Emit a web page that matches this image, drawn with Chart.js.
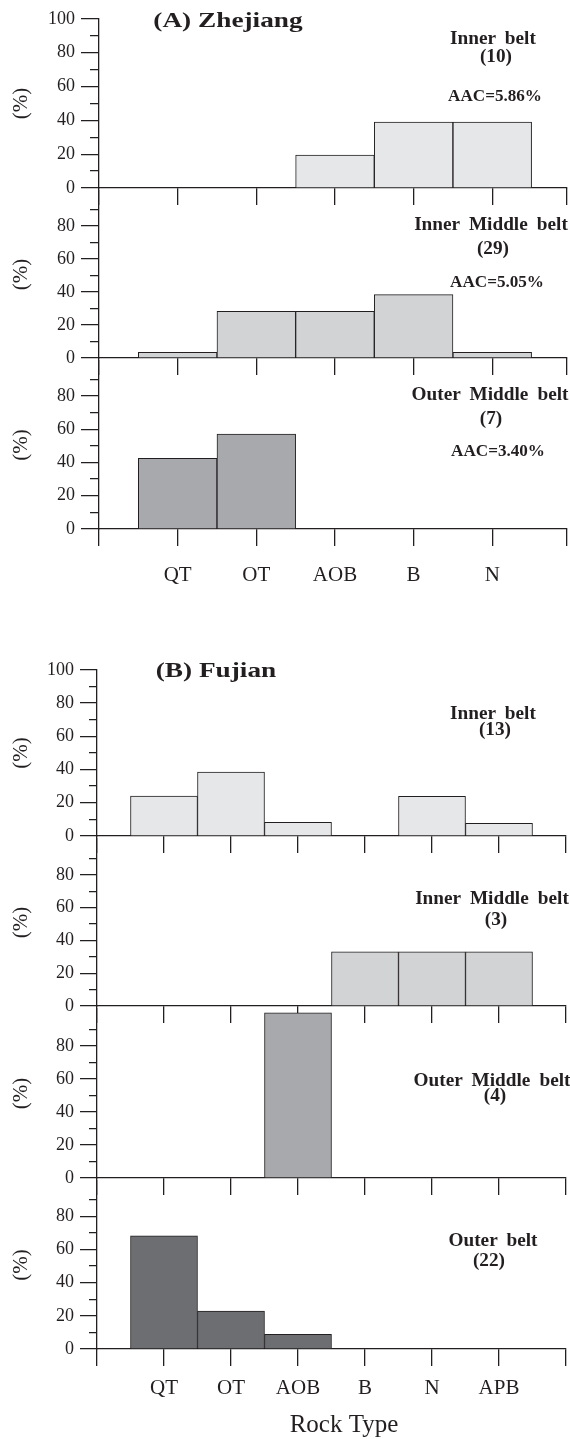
<!DOCTYPE html>
<html>
<head>
<meta charset="utf-8">
<script src="https://cdn.jsdelivr.net/npm/chart.js@4.4.1/dist/chart.umd.min.js"></script>
<style>
html,body{margin:0;padding:0;width:570px;height:1439px;overflow:hidden;background:#fff;}
#wrap{position:relative;width:570px;height:1439px;}
#wrap canvas{position:absolute;left:0;}
.note{position:absolute;z-index:5;font-family:'Liberation Serif','Times New Roman',serif;font-weight:bold;color:#231f20;white-space:nowrap;line-height:1;word-spacing:4px;transform:translate(-50%,-50%) scaleX(1.07);}
.panel{font-size:21px;word-spacing:0;transform:translate(-50%,-50%) scaleX(1.3);}
.belt{font-size:18px;}
.cnt{font-size:18px;}
.aac{font-size:16px;}
</style>
</head>
<body>
<div id="wrap">
  <div class="note panel" style="left:228px;top:20px">(A) Zhejiang</div>
  <div class="note belt" style="left:493px;top:38px">Inner belt</div>
  <div class="note cnt" style="left:496px;top:55.5px">(10)</div>
  <div class="note aac" style="left:495px;top:96px">AAC=5.86%</div>
  <div class="note belt" style="left:491px;top:223.5px">Inner Middle belt</div>
  <div class="note cnt" style="left:493px;top:248px">(29)</div>
  <div class="note aac" style="left:497px;top:282px">AAC=5.05%</div>
  <div class="note belt" style="left:490px;top:394px">Outer Middle belt</div>
  <div class="note cnt" style="left:491px;top:418px">(7)</div>
  <div class="note aac" style="left:497.5px;top:451px">AAC=3.40%</div>

  <div class="note panel" style="left:215.5px;top:670px">(B) Fujian</div>
  <div class="note belt" style="left:493px;top:712.5px">Inner belt</div>
  <div class="note cnt" style="left:494.5px;top:729px">(13)</div>
  <div class="note belt" style="left:492px;top:898px">Inner Middle belt</div>
  <div class="note cnt" style="left:496px;top:919px">(3)</div>
  <div class="note belt" style="left:492px;top:1080px">Outer Middle belt</div>
  <div class="note cnt" style="left:494.5px;top:1095px">(4)</div>
  <div class="note belt" style="left:493px;top:1240px">Outer belt</div>
  <div class="note cnt" style="left:489px;top:1259.5px">(22)</div>
</div>
<script>
// ---------------- data ----------------
const categoriesZhejiang = ['QT', 'OT', 'AOB', 'B', 'N'];
const categoriesFujian = ['QT', 'OT', 'AOB', 'B', 'N', 'APB'];

const zhejiangInner = [0, 0, 19.5, 39, 39];
const zhejiangInnerMiddle = [3.4, 28.3, 28.3, 38.4, 3.4];
const zhejiangOuterMiddle = [42.5, 57, 0, 0, 0];

const fujianInner = [24, 38.5, 8.2, 0, 23.8, 7.6];
const fujianInnerMiddle = [0, 0, 0, 33, 33, 33];
const fujianOuterMiddle = [0, 0, 100, 0, 0, 0];
const fujianOuter = [68.2, 22.8, 8.9, 0, 0, 0];

const yTickLabels = ['0', '20', '40', '60', '80', '100'];
const yAxisTitle = '(%)';
const xAxisTitle = 'Rock Type';

// ---------------- styling / layout ----------------
const INK = '#231f20';
const FONT = "'Liberation Serif','Times New Roman',serif";
const LW = 1.3;

const subplots = [
  {cats: categoriesZhejiang, values: zhejiangInner,       color: '#e6e7e8', top: 16,   zero: 188,  yMax: 100,   axisX: 99, xRight: 567, xMax: 5.95, major: 18, minor: 9, first: true},
  {cats: categoriesZhejiang, values: zhejiangInnerMiddle, color: '#d1d3d4', top: 188,  zero: 358,  yMax: 101.3, axisX: 99, xRight: 567, xMax: 5.95, major: 18, minor: 9},
  {cats: categoriesZhejiang, values: zhejiangOuterMiddle, color: '#a7a9ac', top: 358,  zero: 529,  yMax: 101.1, axisX: 99, xRight: 567, xMax: 5.95, major: 18, minor: 9, last: true, xAxisH: 60, labelLH: 2.81},
  {cats: categoriesFujian,   values: fujianInner,         color: '#e6e7e8', top: 667,  zero: 836,  yMax: 100,   axisX: 97, xRight: 566, xMax: 7, major: 17, minor: 8, first: true},
  {cats: categoriesFujian,   values: fujianInnerMiddle,   color: '#d1d3d4', top: 836,  zero: 1006, yMax: 102,   axisX: 97, xRight: 566, xMax: 7, major: 17, minor: 8},
  {cats: categoriesFujian,   values: fujianOuterMiddle,   color: '#a7a9ac', top: 1006, zero: 1178, yMax: 102.4, axisX: 97, xRight: 566, xMax: 7, major: 17, minor: 8},
  {cats: categoriesFujian,   values: fujianOuter,         color: '#6d6e71', top: 1178, zero: 1349, yMax: 101.3, axisX: 97, xRight: 566, xMax: 7, major: 17, minor: 8, last: true, xAxisH: 90, labelLH: 2.17, xTitle: true}
];

const al = (v, w) => Math.round(v - w / 2) + w / 2;

// minor / major y tick marks and the right-end x tick
const axisMarks = {
  id: 'axisMarks',
  afterDraw(chart, args, o) {
    const ctx = chart.ctx, y = chart.scales.y, x = chart.scales.x, ca = chart.chartArea;
    ctx.save();
    ctx.strokeStyle = INK;
    ctx.lineWidth = LW;
    ctx.beginPath();
    y.ticks.forEach(t => {
      if (!o.first && t.value >= 100) return;
      const py = al(y.getPixelForValue(t.value), LW);
      const len = (t.value % 20 === 0) ? o.major : o.minor;
      ctx.moveTo(ca.left - len, py);
      ctx.lineTo(ca.left, py);
    });
    const lastTick = x.ticks[x.ticks.length - 1].value;
    if (lastTick < x.max) {
      const px = al(x.getPixelForValue(x.max), LW);
      ctx.moveTo(px, ca.bottom);
      ctx.lineTo(px, ca.bottom + 17);
    }
    ctx.stroke();
    ctx.restore();
  }
};

const wrap = document.getElementById('wrap');
const firstNote = wrap.querySelector('.note');

subplots.forEach(p => {
  const padTop = 14;
  const xH = p.last ? p.xAxisH : 17;
  const h = padTop + (p.zero - p.top) + xH;
  const c = document.createElement('canvas');
  c.width = 570; c.height = h;
  c.style.width = '570px'; c.style.height = h + 'px';
  c.style.top = (p.top - padTop) + 'px';
  wrap.insertBefore(c, firstNote);
  const nTicks = Math.floor(p.xMax);

  new Chart(c, {
    type: 'bar',
    data: {
      datasets: [{
        data: p.values.map((v, i) => ({x: i + 1, y: v})),
        backgroundColor: p.color,
        borderColor: INK,
        borderWidth: 1,
        borderSkipped: false,
        barPercentage: 1,
        categoryPercentage: 1,
        grouped: false
      }]
    },
    options: {
      responsive: false,
      animation: false,
      events: [],
      devicePixelRatio: 1,
      layout: {padding: {top: padTop, left: 0, right: 570 - p.xRight, bottom: 0}},
      plugins: {
        legend: {display: false},
        tooltip: {enabled: false},
        axisMarks: {major: p.major, minor: p.minor, first: !!p.first}
      },
      scales: {
        x: {
          type: 'linear', bounds: 'data', min: 0, max: p.xMax, z: 1, offset: false,
          afterBuildTicks: s => { const t = []; for (let i = 0; i <= nTicks; i++) t.push({value: i}); s.ticks = t; },
          afterFit: s => { s.height = xH; },
          grid: {display: true, offset: false, drawOnChartArea: false, drawTicks: true, tickLength: 17, color: INK, lineWidth: LW},
          border: {display: true, color: INK, width: LW},
          ticks: {
            display: !!p.last, autoSkip: false, maxRotation: 0, minRotation: 0,
            padding: 0, color: INK, font: {family: FONT, size: 21, lineHeight: p.labelLH || 1.2},
            callback: v => p.cats[v - 1] || ''
          },
          title: {display: !!p.xTitle, text: '\u2003' + xAxisTitle, color: INK, font: {family: FONT, size: 25, lineHeight: 1.05}, padding: {top: 0, bottom: 0}}
        },
        y: {
          type: 'linear', bounds: 'data', min: 0, max: p.yMax, offset: false,
          afterFit: s => { s.width = p.axisX; },
          grid: {display: false, drawTicks: true, tickLength: p.major},
          border: {display: true, color: INK, width: LW},
          ticks: {
            stepSize: 10, includeBounds: false, autoSkip: false, padding: 6,
            color: INK, font: {family: FONT, size: 18},
            callback: v => (yTickLabels.includes(String(v)) && (p.first || v < 100)) ? String(v) : ''
          },
          title: {display: true, text: yAxisTitle, color: INK, font: {family: FONT, size: 21}, padding: {top: 9, bottom: 0}}
        }
      }
    },
    plugins: [axisMarks]
  });
});
</script>
</body>
</html>
